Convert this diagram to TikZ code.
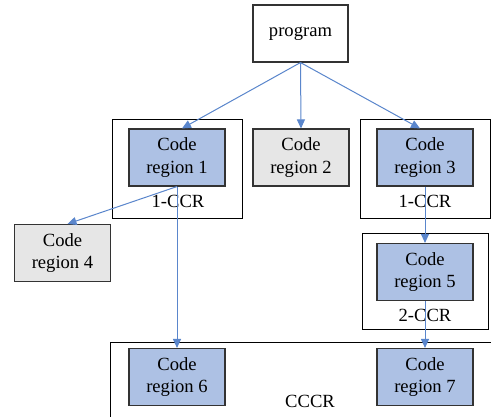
\documentclass[tikz,border=0pt]{standalone}
\usepackage{fontspec}
\setmainfont{Liberation Serif}
\usetikzlibrary{arrows.meta}
\definecolor{cblue}{HTML}{ADC1E4}
\definecolor{cgray}{HTML}{E6E6E6}
\definecolor{cline}{HTML}{5A86CC}
\definecolor{cedge}{HTML}{333333}
\begin{document}
\begin{tikzpicture}[x=1pt,y=-1pt,
  txt/.style={font=\fontsize{18.6}{22.7}\selectfont},
  codebox/.style={draw=cedge,line width=1.1pt,minimum width=96pt,minimum height=57pt,inner sep=0pt,align=center,txt},
  bluebox/.style={codebox,fill=cblue},
  graybox/.style={codebox,fill=cgray},
  outerbox/.style={draw=black,line width=0.9pt},
  lab/.style={txt,inner sep=0pt},
  conn/.style={draw=cline,line width=1pt,-{Triangle[length=9pt,width=8pt]}}]
\useasboundingbox (0,0) rectangle (491,416);
\clip (0,0) rectangle (491,416);
\fill[white] (0,0) rectangle (491,416);
% outer boxes
\draw[outerbox] (112,119) rectangle (242,218);
\draw[outerbox] (360,119) rectangle (490,218);
\draw[outerbox] (362,233) rectangle (488,329);
\draw[outerbox] (110,430) -- (110,342) -- (500,342);
% nodes
\node[codebox,minimum width=95pt] (prog) at (300.5,33.5) {program};
\node[bluebox] (cr1) at (177,157.5) {Code\\region 1};
\node[graybox] (cr2) at (301,157.5) {Code\\region 2};
\node[bluebox] (cr3) at (425,157.5) {Code\\region 3};
\node[graybox] (cr4) at (62.5,253) {Code\\region 4};
\node[bluebox] (cr5) at (425,272) {Code\\region 5};
\node[bluebox] (cr6) at (177,377) {Code\\region 6};
\node[bluebox] (cr7) at (425,377) {Code\\region 7};
% labels
\node[lab] (l1) at (178,201) {1-CCR};
\node[lab] (l3) at (425,201) {1-CCR};
\node[lab] (l5) at (425,315) {2-CCR};
\node[lab] (l7) at (310,401) {CCCR};
% connectors
\draw[conn] (prog.south) -- ([xshift=5pt]cr1.north);
\draw[conn] (prog.south) -- (cr2.north);
\draw[conn] (prog.south) -- ([xshift=-5pt]cr3.north);
\draw[conn] (cr1.south) -- ([xshift=5pt]cr4.north);
\draw[conn] (cr1.south) -- (cr6.north);
\draw[conn] (cr3.south) -- (cr5.north);
\draw[conn] (cr5.south) -- (cr7.north);
\end{tikzpicture}
\end{document}
